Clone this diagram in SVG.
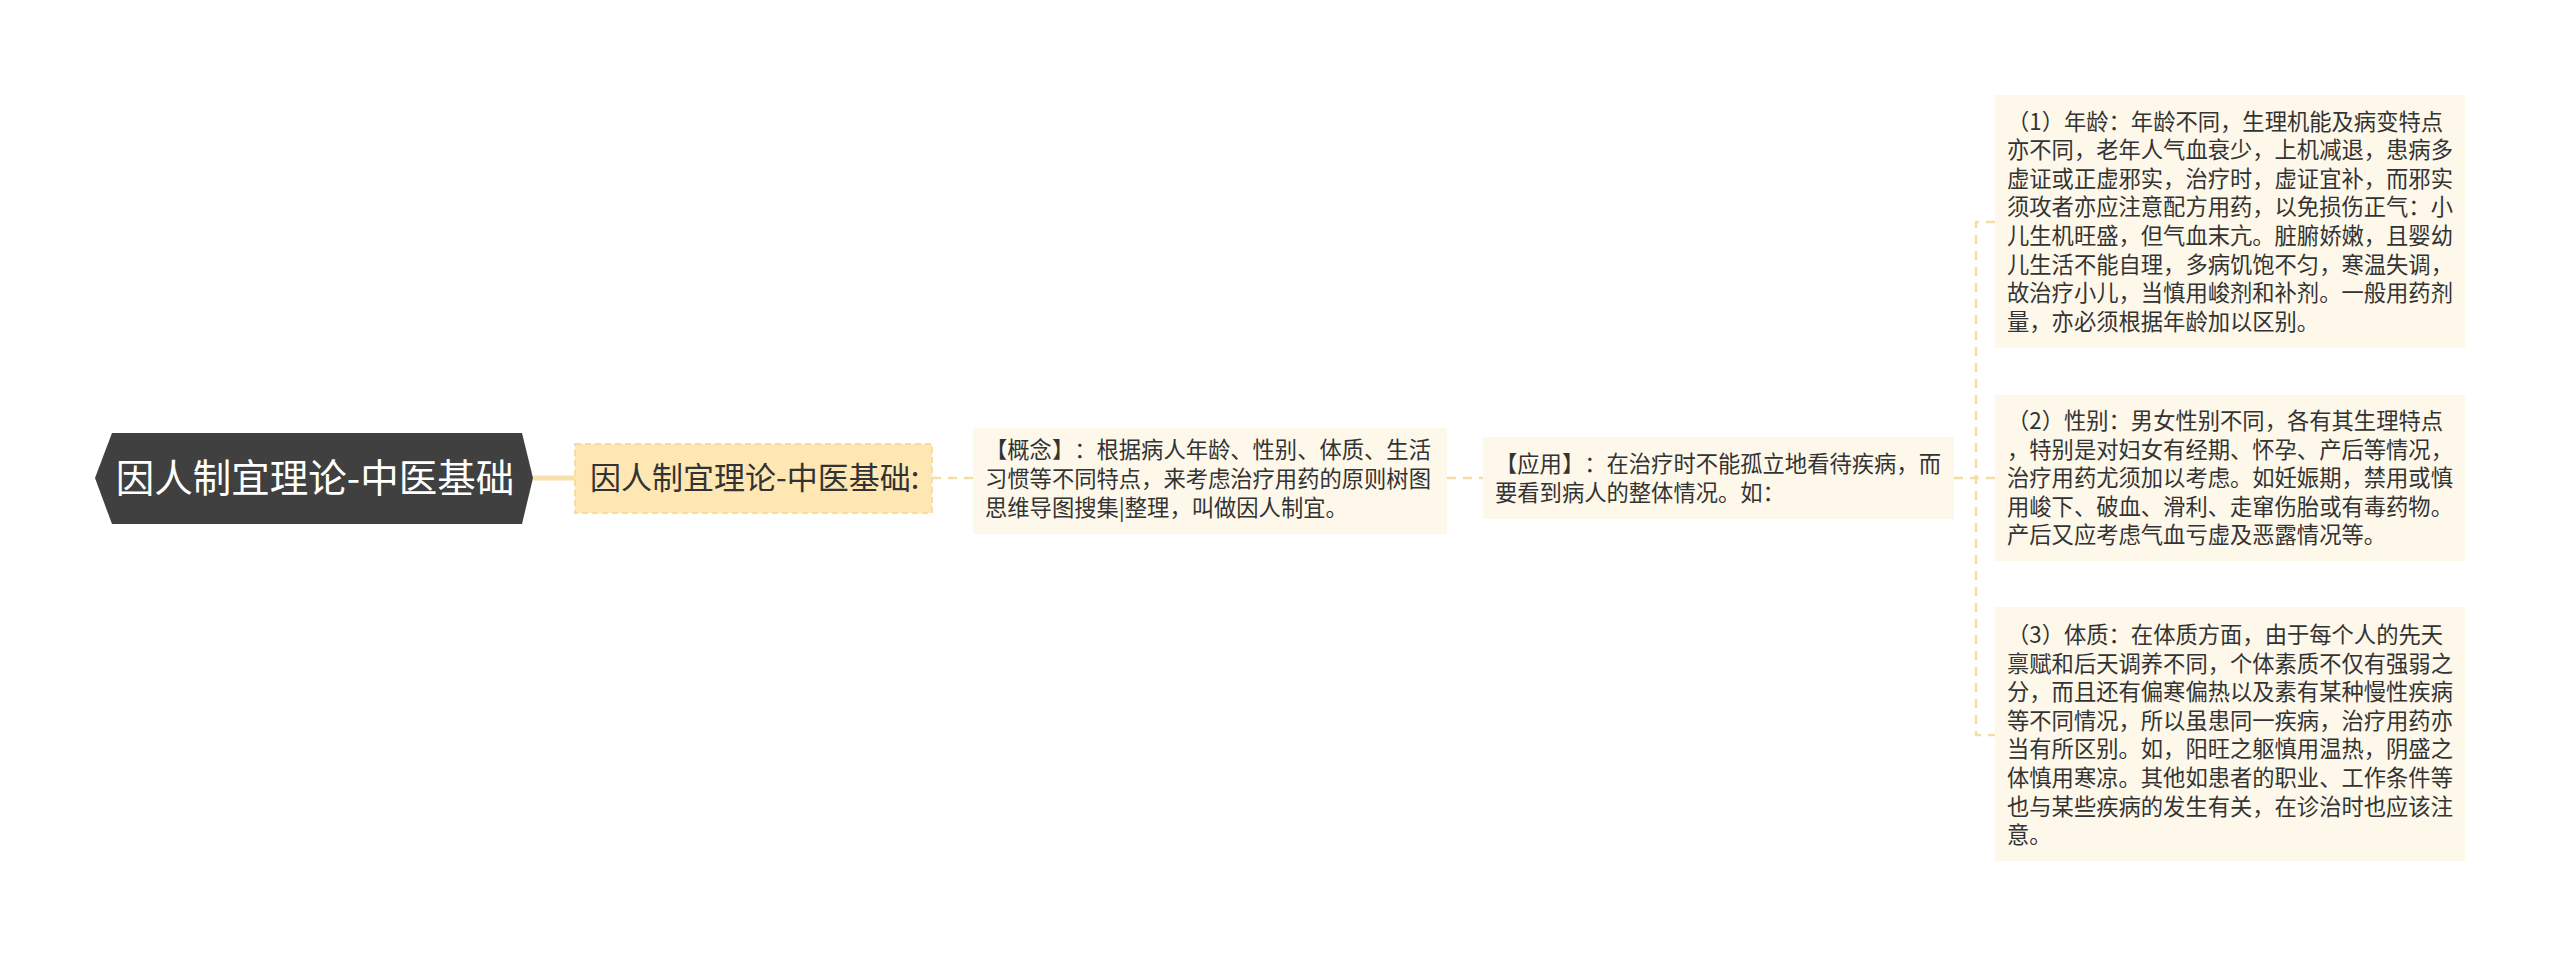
<svg xmlns="http://www.w3.org/2000/svg" width="2560" height="957" viewBox="0 0 2560 957">
<style>
text{font-family:"Noto Sans CJK SC","Noto Sans",sans-serif;fill:#333333;text-spacing-trim:space-all}
.t22{font-size:22.3px}
.card{fill:#fdf8ea}
.conn{fill:none;stroke:#f5dca6;stroke-width:2.5;stroke-dasharray:9 7}
</style>
<rect width="2560" height="957" fill="#ffffff"/>
<g id="connectors">
<path d="M533 478 H575" fill="none" stroke="#f8e1ab" stroke-width="5"/>
<path class="conn" d="M932 478 H973"/>
<path class="conn" d="M1447 478 H1483"/>
<path class="conn" d="M1954 478 H1995"/>
<path class="conn" d="M1995 222 H1976 V735 H1995"/>
</g>
<g id="root">
<polygon points="95,478 112,433 522,433 533,478 522,524 112,524" fill="#404040"/>
<text x="315" y="492" text-anchor="middle" style="font-size:38.5px;fill:#ffffff">因人制宜理论-中医基础</text>
</g>
<g id="n1">
<rect x="575" y="444" width="357" height="69" fill="#fee7b3" stroke="#f8dc9f" stroke-width="2" stroke-dasharray="6 4"/>
<text x="590" y="489" style="font-size:31px">因人制宜理论-中医基础:</text>
</g>
<g id="n2">
<rect class="card" x="973" y="428" width="474" height="106"/>
<text class="t22"><tspan x="985" y="458">【概念】：根据病人年龄、性别、体质、生活</tspan><tspan x="985" y="487">习惯等不同特点，来考虑治疗用药的原则树图</tspan><tspan x="985" y="516">思维导图搜集|整理，叫做因人制宜。</tspan></text>
</g>
<g id="n3">
<rect class="card" x="1483" y="437" width="471" height="82"/>
<text class="t22"><tspan x="1495" y="472">【应用】：在治疗时不能孤立地看待疾病，而</tspan><tspan x="1495" y="501">要看到病人的整体情况。如：</tspan></text>
</g>
<g id="n4">
<rect class="card" x="1995" y="95" width="470" height="253"/>
<text class="t22"><tspan x="2007" y="129.5">（1）年龄：年龄不同，生理机能及病变特点</tspan><tspan x="2007" y="158.1">亦不同，老年人气血衰少，上机减退，患病多</tspan><tspan x="2007" y="186.7">虚证或正虚邪实，治疗时，虚证宜补，而邪实</tspan><tspan x="2007" y="215.3">须攻者亦应注意配方用药，以免损伤正气：小</tspan><tspan x="2007" y="243.9">儿生机旺盛，但气血末亢。脏腑娇嫩，且婴幼</tspan><tspan x="2007" y="272.5">儿生活不能自理，多病饥饱不匀，寒温失调，</tspan><tspan x="2007" y="301.1">故治疗小儿，当慎用峻剂和补剂。一般用药剂</tspan><tspan x="2007" y="329.7">量，亦必须根据年龄加以区别。</tspan></text>
</g>
<g id="n5">
<rect class="card" x="1995" y="395" width="470" height="166"/>
<text class="t22"><tspan x="2007" y="429">（2）性别：男女性别不同，各有其生理特点</tspan><tspan x="2007" y="457.6">，特别是对妇女有经期、怀孕、产后等情况，</tspan><tspan x="2007" y="486.2">治疗用药尤须加以考虑。如妊娠期，禁用或慎</tspan><tspan x="2007" y="514.8">用峻下、破血、滑利、走窜伤胎或有毒药物。</tspan><tspan x="2007" y="543.4">产后又应考虑气血亏虚及恶露情况等。</tspan></text>
</g>
<g id="n6">
<rect class="card" x="1995" y="607" width="470" height="254"/>
<text class="t22"><tspan x="2007" y="643">（3）体质：在体质方面，由于每个人的先天</tspan><tspan x="2007" y="671.6">禀赋和后天调养不同，个体素质不仅有强弱之</tspan><tspan x="2007" y="700.2">分，而且还有偏寒偏热以及素有某种慢性疾病</tspan><tspan x="2007" y="728.8">等不同情况，所以虽患同一疾病，治疗用药亦</tspan><tspan x="2007" y="757.4">当有所区别。如，阳旺之躯慎用温热，阴盛之</tspan><tspan x="2007" y="786">体慎用寒凉。其他如患者的职业、工作条件等</tspan><tspan x="2007" y="814.6">也与某些疾病的发生有关，在诊治时也应该注</tspan><tspan x="2007" y="843.2">意。</tspan></text>
</g>
</svg>
